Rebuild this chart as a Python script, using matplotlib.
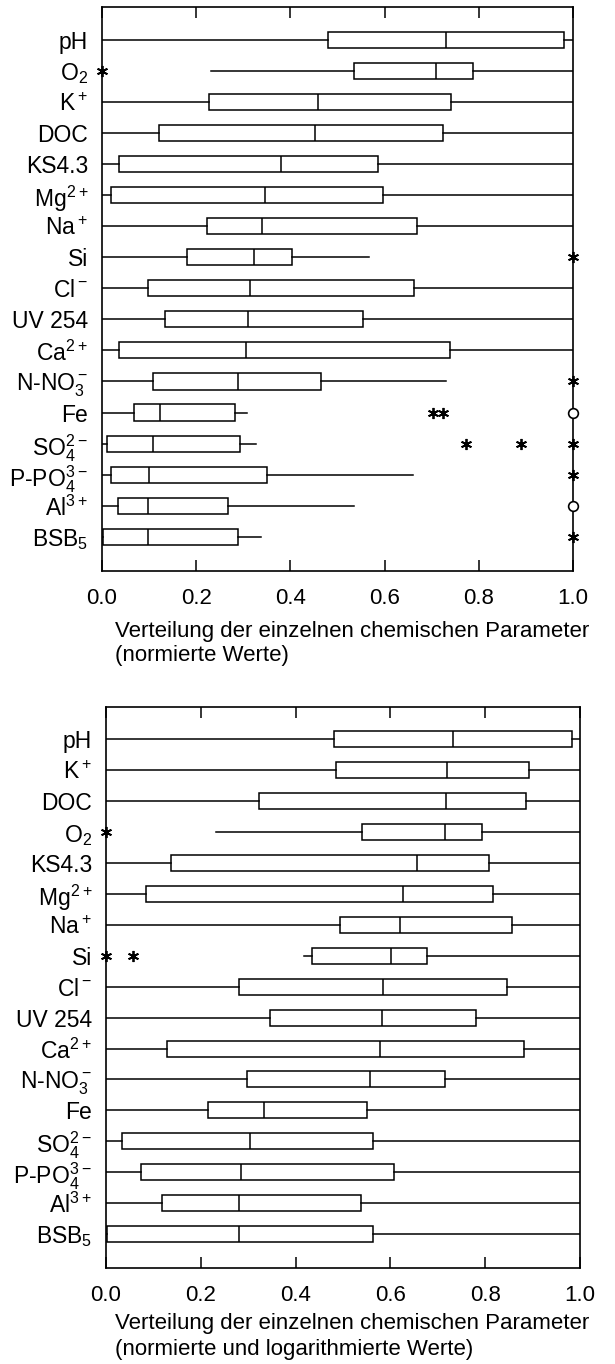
import matplotlib
matplotlib.use("Agg")
import matplotlib.pyplot as plt

plt.rcParams['font.family'] = ['Liberation Sans', 'DejaVu Sans']
plt.rcParams['mathtext.default'] = 'regular'

# ---- top panel: normierte Werte ----
top_labels = ['pH', 'O$_2$', 'K$^+$', 'DOC', 'KS4.3', 'Mg$^{2+}$', 'Na$^+$', 'Si', 'Cl$^-$',
              'UV 254', 'Ca$^{2+}$', 'N-NO$_3^-$', 'Fe', 'SO$_4^{2-}$', 'P-PO$_4^{3-}$',
              'Al$^{3+}$', 'BSB$_5$']
top_lo = [0.0, 0.231, 0.0, 0.0, 0.0, 0.0, 0.0, 0.0, 0.0, 0.0, 0.0, 0.0, 0.0, 0.0, 0.0, 0.0, 0.0]
top_q1 = [0.479, 0.536, 0.227, 0.122, 0.036, 0.020, 0.223, 0.180, 0.098, 0.133, 0.036, 0.108,
          0.069, 0.010, 0.019, 0.033, 0.003]
top_med = [0.731, 0.710, 0.458, 0.453, 0.379, 0.346, 0.340, 0.323, 0.314, 0.310, 0.306, 0.288,
           0.123, 0.108, 0.100, 0.098, 0.098]
top_q3 = [0.980, 0.788, 0.740, 0.725, 0.586, 0.597, 0.668, 0.403, 0.662, 0.555, 0.739, 0.465,
          0.283, 0.292, 0.350, 0.267, 0.288]
top_hi = [1.0, 1.0, 1.0, 1.0, 1.0, 1.0, 1.0, 0.567, 1.0, 1.0, 1.0, 0.730, 0.307, 0.327, 0.660,
          0.536, 0.337]
top_stars = [[], [0.0], [], [], [], [], [], [1.0], [], [], [], [1.0], [0.703, 0.723],
             [0.772, 0.890, 1.0], [1.0], [], [1.0]]
top_circles = [[], [], [], [], [], [], [], [], [], [], [], [], [1.0], [], [], [1.0], []]

# ---- bottom panel: normierte und logarithmierte Werte ----
bot_labels = ['pH', 'K$^+$', 'DOC', 'O$_2$', 'KS4.3', 'Mg$^{2+}$', 'Na$^+$', 'Si', 'Cl$^-$',
              'UV 254', 'Ca$^{2+}$', 'N-NO$_3^-$', 'Fe', 'SO$_4^{2-}$', 'P-PO$_4^{3-}$',
              'Al$^{3+}$', 'BSB$_5$']
bot_lo = [0.0, 0.0, 0.0, 0.233, 0.0, 0.0, 0.0, 0.417, 0.0, 0.0, 0.0, 0.0, 0.0, 0.0, 0.0, 0.0, 0.0]
bot_q1 = [0.481, 0.485, 0.322, 0.540, 0.137, 0.084, 0.494, 0.435, 0.280, 0.347, 0.128, 0.298,
          0.215, 0.034, 0.073, 0.118, 0.003]
bot_med = [0.733, 0.719, 0.718, 0.715, 0.656, 0.627, 0.621, 0.602, 0.585, 0.582, 0.578, 0.558,
           0.333, 0.303, 0.285, 0.280, 0.280]
bot_q3 = [0.984, 0.892, 0.886, 0.793, 0.808, 0.816, 0.857, 0.678, 0.845, 0.780, 0.882, 0.715,
          0.551, 0.563, 0.608, 0.537, 0.563]
bot_hi = [1.0] * 17
bot_stars = [[], [], [], [0.0], [], [], [], [0.0, 0.058], [], [], [], [], [], [], [], [], []]
bot_circles = [[] for _ in range(17)]

ticks = [0.0, 0.2, 0.4, 0.6, 0.8, 1.0]


def draw_panel(ax, labels, lo, q1, med, q3, hi, stars, circles):
    stats = []
    for i in range(len(labels)):
        stats.append({'whislo': lo[i], 'q1': q1[i], 'med': med[i], 'q3': q3[i],
                      'whishi': hi[i], 'fliers': []})
    pos = list(range(len(labels)))
    ax.bxp(stats, positions=pos, orientation='horizontal', widths=0.52,
           showcaps=False, showfliers=False, patch_artist=True,
           boxprops=dict(facecolor='white', edgecolor='black', linewidth=1.1),
           medianprops=dict(color='black', linewidth=1.1),
           whiskerprops=dict(color='black', linewidth=1.1))
    for i in pos:
        for v in stars[i]:
            ax.plot(v, i, marker=(6, 2, 0), color='black', markersize=8, mew=1.3,
                    clip_on=False, zorder=5)
        for v in circles[i]:
            ax.plot(v, i, marker='o', mfc='white', mec='black', markersize=7, mew=1.2,
                    clip_on=False, zorder=5)
    ax.set_xlim(0, 1)
    ax.set_ylim(len(labels) + 0.1, -1.05)
    ax.set_yticks(pos)
    ax.set_yticklabels(labels, fontsize=16.5)
    ax.set_xticks(ticks)
    ax.set_xticklabels(['%.1f' % t for t in ticks], fontsize=16)
    ax.tick_params(axis='y', length=0, pad=10)
    ax.tick_params(axis='x', direction='in', top=True, length=8, width=1.1, pad=12)
    for s in ax.spines.values():
        s.set_linewidth(1.2)


fig = plt.figure(figsize=(6.15, 13.64), dpi=100)

ax1 = fig.add_axes([102 / 615, 1 - 571 / 1364, 471 / 615, 564 / 1364])
draw_panel(ax1, top_labels, top_lo, top_q1, top_med, top_q3, top_hi, top_stars, top_circles)
fig.text(115 / 615, 1 - 632 / 1364, 'Verteilung der einzelnen chemischen Parameter',
         fontsize=16, ha='left', va='center')
fig.text(115 / 615, 1 - 656 / 1364, '(normierte Werte)', fontsize=16, ha='left', va='center')

ax2 = fig.add_axes([106 / 615, 1 - 1268 / 1364, 474 / 615, 561 / 1364])
draw_panel(ax2, bot_labels, bot_lo, bot_q1, bot_med, bot_q3, bot_hi, bot_stars, bot_circles)
fig.text(115 / 615, 1 - 1324 / 1364, 'Verteilung der einzelnen chemischen Parameter',
         fontsize=16, ha='left', va='center')
fig.text(115 / 615, 1 - 1349 / 1364, '(normierte und logarithmierte Werte)', fontsize=16,
         ha='left', va='center')

fig.savefig('out.png', dpi=100)
plt.close()
